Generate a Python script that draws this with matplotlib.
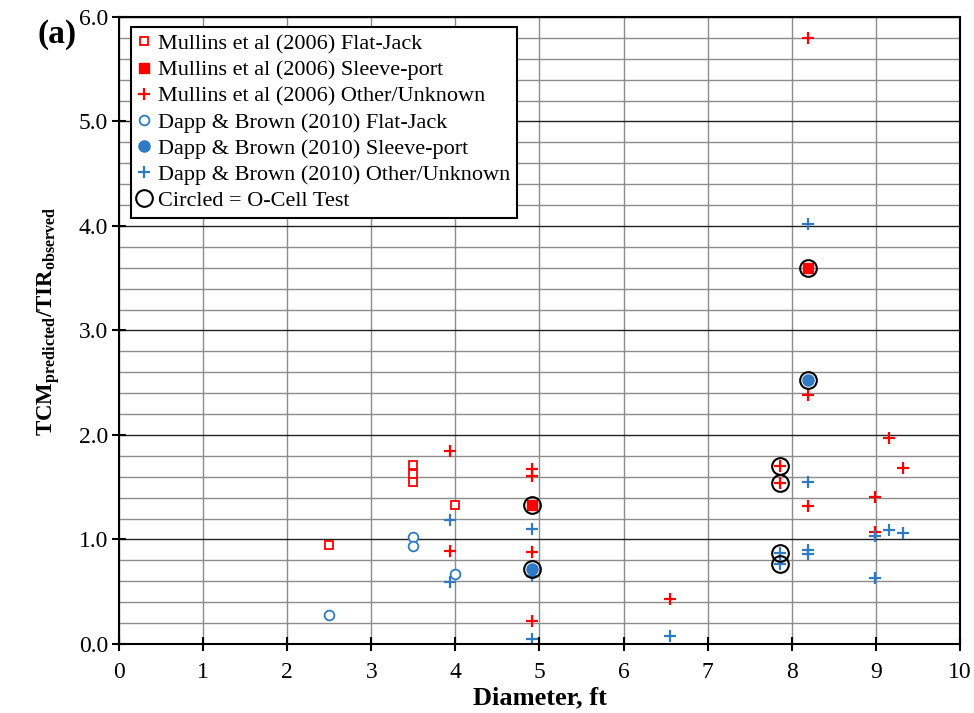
import matplotlib
matplotlib.use("Agg")
import matplotlib.pyplot as plt
from matplotlib.ticker import MultipleLocator

plt.rcParams["font.family"] = ["Liberation Serif", "DejaVu Serif"]
plt.rcParams["mathtext.fontset"] = "custom"
plt.rcParams["mathtext.rm"] = "Liberation Serif"
plt.rcParams["mathtext.bf"] = "Liberation Serif:bold"

RED = "#FF0000"
BLUE = "#2E7BC4"

# Mullins et al (2006)
mul_fj_x = [2.5, 3.5, 3.5, 3.5, 4.0]
mul_fj_y = [0.95, 1.71, 1.63, 1.55, 1.33]
mul_sp_x = [4.91, 8.19]
mul_sp_y = [1.33, 3.60]
mul_ot_x = [3.93, 3.93, 4.91, 4.91, 4.91, 4.91, 6.55, 8.19, 8.19, 8.19, 7.86, 7.86, 9.16, 9.32, 8.99, 8.99]
mul_ot_y = [1.85, 0.89, 1.67, 1.61, 0.88, 0.22, 0.43, 5.80, 2.38, 1.32, 1.70, 1.54, 1.97, 1.68, 1.41, 1.07]

# Dapp & Brown (2010)
dap_fj_x = [2.5, 3.5, 3.5, 4.0]
dap_fj_y = [0.28, 1.02, 0.94, 0.67]
dap_sp_x = [4.91, 8.19]
dap_sp_y = [0.715, 2.53]
dap_ot_x = [3.93, 3.93, 4.91, 4.91, 4.91, 6.55, 8.19, 8.19, 8.19, 8.19, 7.86, 7.86, 8.99, 9.16, 9.32, 8.99]
dap_ot_y = [1.19, 0.59, 1.10, 0.65, 0.045, 0.08, 4.02, 1.55, 0.90, 0.86, 0.875, 0.77, 1.03, 1.09, 1.06, 0.63]

# O-cell tests (circled)
ocell_x = [4.91, 4.91, 8.19, 8.19, 7.86, 7.86, 7.86, 7.86]
ocell_y = [1.33, 0.715, 3.60, 2.53, 1.70, 1.54, 0.875, 0.77]

fig = plt.figure(figsize=(9.74, 7.13), dpi=100)
ax = fig.add_axes([0.1222, 0.0968, 0.8634, 0.8794])

ax.plot(mul_fj_x, mul_fj_y, ls="none", marker="s", ms=6, mfc="white", mec=RED, mew=1.3,
        label="Mullins et al (2006) Flat-Jack")
ax.plot(mul_sp_x, mul_sp_y, ls="none", marker="s", ms=7, mfc=RED, mec=RED,
        label="Mullins et al (2006) Sleeve-port")
ax.plot(mul_ot_x, mul_ot_y, ls="none", marker="+", ms=9, mec=RED, mew=1.6,
        label="Mullins et al (2006) Other/Unknown")
ax.plot(dap_fj_x, dap_fj_y, ls="none", marker="o", ms=7, mfc="white", mec=BLUE, mew=1.3,
        label="Dapp & Brown (2010) Flat-Jack")
ax.plot(dap_sp_x, dap_sp_y, ls="none", marker="o", ms=8, mfc=BLUE, mec=BLUE,
        label="Dapp & Brown (2010) Sleeve-port")
ax.plot(dap_ot_x, dap_ot_y, ls="none", marker="+", ms=9, mec=BLUE, mew=1.6,
        label="Dapp & Brown (2010) Other/Unknown")
ax.plot(ocell_x, ocell_y, ls="none", marker="o", ms=12, mfc="none", mec="black", mew=1.5,
        label="Circled = O-Cell Test")

ax.set_xlim(0, 10)
ax.set_ylim(0, 6)
ax.xaxis.set_major_locator(MultipleLocator(1))
ax.yaxis.set_major_locator(MultipleLocator(1))
ax.yaxis.set_minor_locator(MultipleLocator(0.2))
ax.yaxis.set_major_formatter(lambda v, p: f"{v:.1f}")
ax.grid(True, which="major", axis="x", color="#8c8c8c", lw=1.0)
ax.grid(True, which="major", axis="y", color="#222222", lw=1.0)
ax.grid(True, which="minor", axis="y", color="#8c8c8c", lw=1.0)
ax.set_axisbelow(True)
ax.tick_params(axis="both", which="major", direction="inout", length=10, width=1.5,
               labelsize=17, colors="black")
ax.tick_params(axis="y", which="minor", length=0)
ax.tick_params(axis="x", pad=8)
ax.tick_params(axis="y", pad=3)
for s in ax.spines.values():
    s.set_linewidth(1.5)

ax.set_xlabel("Diameter, ft", fontsize=19, fontweight="bold")
ax.xaxis.set_label_coords(0.5, -0.068)
ax.set_ylabel(r"$\mathbf{TCM}_{\mathbf{predicted}}\mathbf{/TIR}_{\mathbf{observed}}$",
              fontsize=16.5)
ax.yaxis.set_label_coords(-0.067, 0.515)
fig.text(0.038, 0.94, "(a)", fontsize=24, fontweight="bold")

leg = ax.legend(loc="upper left", bbox_to_anchor=(0.0143, 0.984), borderaxespad=0,
                fontsize=16, frameon=True, fancybox=False, edgecolor="black",
                framealpha=1, handlelength=0.6, handletextpad=0.3, borderpad=0.3,
                labelspacing=0.25)
leg.get_frame().set_linewidth(1.5)

fig.savefig("out.png", dpi=100)
